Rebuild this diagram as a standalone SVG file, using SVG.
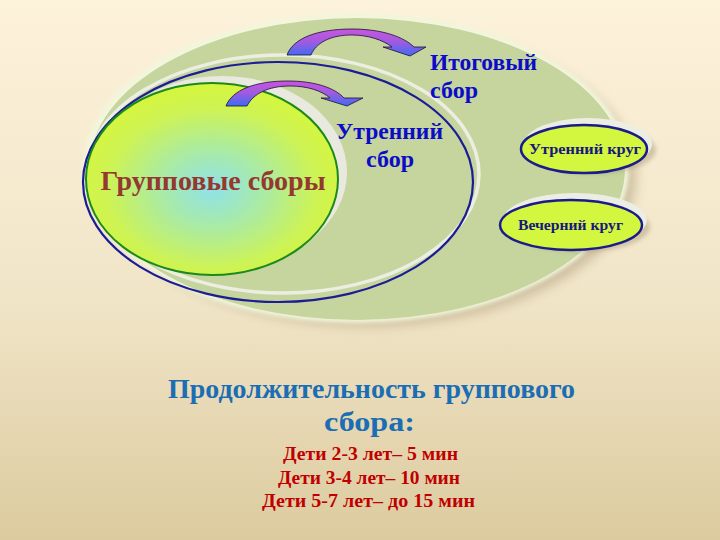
<svg xmlns="http://www.w3.org/2000/svg" width="720" height="540" viewBox="0 0 720 540">
<defs>
<linearGradient id="bg" x1="0" y1="0" x2="0" y2="1">
<stop offset="0" stop-color="#fdf2da"/>
<stop offset="0.55" stop-color="#f1e5c8"/>
<stop offset="1" stop-color="#dccb9f"/>
</linearGradient>
<radialGradient id="innerFill" cx="0.5" cy="0.55" r="0.55">
<stop offset="0" stop-color="#8fe2ea"/>
<stop offset="0.35" stop-color="#a8eaa8"/>
<stop offset="0.75" stop-color="#cdf355"/>
<stop offset="1" stop-color="#d6f63c"/>
</radialGradient>
<linearGradient id="arrowFill" x1="0" y1="0" x2="0" y2="1">
<stop offset="0" stop-color="#c955df"/>
<stop offset="0.45" stop-color="#a45ae0"/>
<stop offset="1" stop-color="#3c6cf2"/>
</linearGradient>
<filter id="blur6" x="-20%" y="-20%" width="140%" height="140%"><feGaussianBlur stdDeviation="6"/></filter>
<filter id="blur2" x="-20%" y="-20%" width="140%" height="140%"><feGaussianBlur stdDeviation="2"/></filter>
<style>
.lbl{font-family:"Liberation Serif","Times New Roman",serif;font-weight:bold}
.blue{fill:#0c0cc8;font-size:24px}
.small{fill:#17177e;font-size:14px}
.rim{fill:#ecede3}
.pill{fill:#d3f63e;stroke:#1b1b8c;stroke-width:2.5}
.arrow{fill:url(#arrowFill);stroke:#1a1030;stroke-width:0.8}
.red{fill:#c00000;font-size:18px}
.dur{fill:#1b6db4;font-size:27px}
</style>
</defs>
<rect width="720" height="540" fill="url(#bg)"/>

<g id="outer-circle">
<ellipse cx="368" cy="176" rx="268" ry="150" fill="#9c8a66" opacity="0.45" filter="url(#blur6)"/>
<ellipse cx="356" cy="168" rx="273" ry="155" fill="#f2f6dc" filter="url(#blur2)"/>
<ellipse cx="357" cy="169" rx="268" ry="151" fill="#c5d59d"/>
</g>

<g id="morning-gathering">
<ellipse cx="283" cy="174" rx="196" ry="119" fill="none" stroke="#eceee2" stroke-width="3.5"/>
<ellipse cx="278" cy="182" rx="195" ry="120" fill="none" stroke="#1c1c96" stroke-width="2.2"/>
</g>

<g id="group-gatherings">
<ellipse cx="222" cy="172" rx="125" ry="96" fill="#e9e9df"/>
<ellipse cx="212" cy="179" rx="126" ry="96" fill="url(#innerFill)" stroke="#1b8a1b" stroke-width="2"/>
<text class="lbl" x="213" y="190" font-size="28" fill="#93392f" text-anchor="middle">Групповые сборы</text>
</g>

<g id="morning-circle">
<ellipse cx="594" cy="150" rx="62" ry="24" fill="#9c8a66" opacity="0.4" filter="url(#blur2)"/>
<ellipse cx="588" cy="144" rx="64" ry="26" class="rim"/>
<ellipse cx="584" cy="149" rx="63" ry="24" class="pill"/>
<text class="lbl small" x="529" y="154" textLength="112" lengthAdjust="spacingAndGlyphs">Утренний  круг</text>
</g>

<g id="evening-circle">
<ellipse cx="580" cy="227" rx="70" ry="25" fill="#9c8a66" opacity="0.4" filter="url(#blur2)"/>
<ellipse cx="575" cy="220" rx="72" ry="27" class="rim"/>
<ellipse cx="571" cy="225" rx="71" ry="25" class="pill"/>
<text class="lbl small" x="518" y="230" textLength="105" lengthAdjust="spacingAndGlyphs">Вечерний круг</text>
</g>

<g id="connectors">
<path class="arrow" d="M287,55 C293,38 318,29 352,29 C382,29 404,37 414,47 L426,47 L410,56 L383,47 L392,47 C383,40 368,35 352,35 C330,35 316,43 311,55 Z"/>
<path class="arrow" d="M226,106 C232,90 255,81 288,81 C315,81 335,88 344,98 L363,98 L347,106 L321,98 L330,98 C322,91 308,86 290,86 C268,86 253,94 247,106 Z"/>
</g>

<g id="labels">
<text class="lbl blue" x="430" y="70" textLength="107" lengthAdjust="spacingAndGlyphs">Итоговый</text>
<text class="lbl blue" x="430" y="98">сбор</text>
<text class="lbl blue" x="336" y="139" textLength="107" lengthAdjust="spacingAndGlyphs">Утренний</text>
<text class="lbl blue" x="366" y="167">сбор</text>
</g>

<g id="duration">
<text class="lbl dur" x="168" y="398" textLength="407" lengthAdjust="spacingAndGlyphs">Продолжительность группового</text>
<text class="lbl dur" x="324" y="431" textLength="91" lengthAdjust="spacingAndGlyphs">сбора:</text>
<text class="lbl red" x="283" y="460" textLength="175" lengthAdjust="spacingAndGlyphs">Дети 2-3 лет– 5 мин</text>
<text class="lbl red" x="278" y="484" textLength="182" lengthAdjust="spacingAndGlyphs">Дети 3-4 лет– 10 мин</text>
<text class="lbl red" x="262" y="507" textLength="213" lengthAdjust="spacingAndGlyphs">Дети 5-7 лет– до 15 мин</text>
</g>
</svg>
